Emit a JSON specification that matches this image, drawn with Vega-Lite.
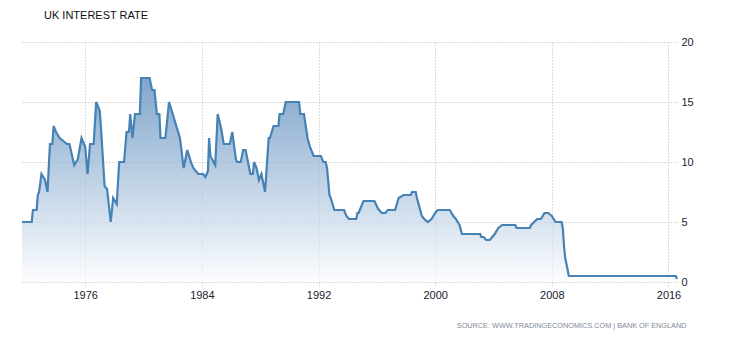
{
  "$schema": "https://vega.github.io/schema/vega-lite/v6.json",
  "autosize": {"type": "none"},
  "padding": {"left": 22, "top": 42, "right": 53, "bottom": 58},
  "width": 655,
  "height": 240,
  "background": "white",
  "title": {
    "text": "UK INTEREST RATE",
    "anchor": "start",
    "frame": "group",
    "dx": 22,
    "offset": 15,
    "font": "Liberation Sans",
    "fontSize": 11,
    "fontWeight": "normal",
    "color": "#111111"
  },
  "data": {
    "values": [
      {"date": "1971-09-01", "rate": 5},
      {"date": "1972-05-01", "rate": 5},
      {"date": "1972-06-01", "rate": 6},
      {"date": "1972-09-01", "rate": 6},
      {"date": "1972-10-01", "rate": 7.25},
      {"date": "1972-11-01", "rate": 7.5},
      {"date": "1973-01-01", "rate": 9},
      {"date": "1973-04-01", "rate": 8.5},
      {"date": "1973-06-01", "rate": 7.5},
      {"date": "1973-08-01", "rate": 11.5},
      {"date": "1973-10-01", "rate": 11.5},
      {"date": "1973-11-01", "rate": 13},
      {"date": "1974-01-01", "rate": 12.5},
      {"date": "1974-04-01", "rate": 12},
      {"date": "1974-07-01", "rate": 11.75},
      {"date": "1974-10-01", "rate": 11.5},
      {"date": "1974-12-01", "rate": 11.5},
      {"date": "1975-04-01", "rate": 9.75},
      {"date": "1975-07-01", "rate": 10.25},
      {"date": "1975-10-01", "rate": 12},
      {"date": "1976-01-01", "rate": 11.25},
      {"date": "1976-03-01", "rate": 9},
      {"date": "1976-05-01", "rate": 11.5},
      {"date": "1976-08-01", "rate": 11.5},
      {"date": "1976-10-01", "rate": 15},
      {"date": "1977-01-01", "rate": 14.25},
      {"date": "1977-02-01", "rate": 12.75},
      {"date": "1977-05-01", "rate": 8},
      {"date": "1977-07-01", "rate": 7.75},
      {"date": "1977-10-01", "rate": 5},
      {"date": "1977-12-01", "rate": 7},
      {"date": "1978-03-01", "rate": 6.5},
      {"date": "1978-05-01", "rate": 10},
      {"date": "1978-09-01", "rate": 10},
      {"date": "1978-11-01", "rate": 12.5},
      {"date": "1979-01-01", "rate": 12.5},
      {"date": "1979-02-01", "rate": 14},
      {"date": "1979-04-01", "rate": 12},
      {"date": "1979-06-01", "rate": 14},
      {"date": "1979-10-01", "rate": 14},
      {"date": "1979-11-01", "rate": 17},
      {"date": "1980-06-01", "rate": 17},
      {"date": "1980-08-01", "rate": 16},
      {"date": "1980-10-01", "rate": 16},
      {"date": "1980-12-01", "rate": 14},
      {"date": "1981-02-01", "rate": 14},
      {"date": "1981-03-01", "rate": 12},
      {"date": "1981-07-01", "rate": 12},
      {"date": "1981-10-01", "rate": 15},
      {"date": "1982-01-01", "rate": 14},
      {"date": "1982-04-01", "rate": 13},
      {"date": "1982-07-01", "rate": 12},
      {"date": "1982-10-01", "rate": 9.5},
      {"date": "1983-01-01", "rate": 11},
      {"date": "1983-04-01", "rate": 10},
      {"date": "1983-06-01", "rate": 9.5},
      {"date": "1983-10-01", "rate": 9},
      {"date": "1984-02-01", "rate": 9},
      {"date": "1984-04-01", "rate": 8.75},
      {"date": "1984-06-01", "rate": 9.25},
      {"date": "1984-07-01", "rate": 12},
      {"date": "1984-08-01", "rate": 10.5},
      {"date": "1984-12-01", "rate": 9.75},
      {"date": "1985-02-01", "rate": 14},
      {"date": "1985-05-01", "rate": 12.75},
      {"date": "1985-07-01", "rate": 11.5},
      {"date": "1985-12-01", "rate": 11.5},
      {"date": "1986-02-01", "rate": 12.5},
      {"date": "1986-05-01", "rate": 10.25},
      {"date": "1986-06-01", "rate": 10},
      {"date": "1986-09-01", "rate": 10},
      {"date": "1986-11-01", "rate": 11},
      {"date": "1987-01-01", "rate": 11},
      {"date": "1987-03-01", "rate": 10},
      {"date": "1987-05-01", "rate": 9},
      {"date": "1987-07-01", "rate": 9},
      {"date": "1987-08-01", "rate": 10},
      {"date": "1987-10-01", "rate": 9.5},
      {"date": "1987-12-01", "rate": 8.5},
      {"date": "1988-02-01", "rate": 9},
      {"date": "1988-04-01", "rate": 8},
      {"date": "1988-05-01", "rate": 7.5},
      {"date": "1988-08-01", "rate": 12},
      {"date": "1988-09-01", "rate": 12},
      {"date": "1988-12-01", "rate": 13},
      {"date": "1989-04-01", "rate": 13},
      {"date": "1989-05-01", "rate": 14},
      {"date": "1989-08-01", "rate": 14},
      {"date": "1989-10-01", "rate": 15},
      {"date": "1990-09-01", "rate": 15},
      {"date": "1990-10-01", "rate": 14},
      {"date": "1991-01-01", "rate": 14},
      {"date": "1991-04-01", "rate": 12},
      {"date": "1991-06-01", "rate": 11.25},
      {"date": "1991-09-01", "rate": 10.5},
      {"date": "1992-03-01", "rate": 10.5},
      {"date": "1992-05-01", "rate": 10},
      {"date": "1992-07-01", "rate": 10},
      {"date": "1992-08-01", "rate": 9.5},
      {"date": "1992-10-01", "rate": 7.25},
      {"date": "1992-11-01", "rate": 7},
      {"date": "1993-02-01", "rate": 6},
      {"date": "1993-10-01", "rate": 6},
      {"date": "1993-12-01", "rate": 5.5},
      {"date": "1994-02-01", "rate": 5.25},
      {"date": "1994-08-01", "rate": 5.25},
      {"date": "1994-09-01", "rate": 5.75},
      {"date": "1994-10-01", "rate": 5.75},
      {"date": "1995-02-01", "rate": 6.75},
      {"date": "1995-11-01", "rate": 6.75},
      {"date": "1996-02-01", "rate": 6.1},
      {"date": "1996-05-01", "rate": 5.75},
      {"date": "1996-08-01", "rate": 5.75},
      {"date": "1996-10-01", "rate": 6},
      {"date": "1997-04-01", "rate": 6},
      {"date": "1997-07-01", "rate": 7},
      {"date": "1997-11-01", "rate": 7.25},
      {"date": "1998-05-01", "rate": 7.25},
      {"date": "1998-06-01", "rate": 7.5},
      {"date": "1998-09-01", "rate": 7.5},
      {"date": "1998-10-01", "rate": 7},
      {"date": "1999-02-01", "rate": 5.5},
      {"date": "1999-04-01", "rate": 5.25},
      {"date": "1999-07-01", "rate": 5},
      {"date": "1999-10-01", "rate": 5.25},
      {"date": "2000-01-01", "rate": 5.75},
      {"date": "2000-03-01", "rate": 6},
      {"date": "2001-01-01", "rate": 6},
      {"date": "2001-04-01", "rate": 5.5},
      {"date": "2001-06-01", "rate": 5.25},
      {"date": "2001-09-01", "rate": 4.75},
      {"date": "2001-11-01", "rate": 4},
      {"date": "2003-02-01", "rate": 4},
      {"date": "2003-03-01", "rate": 3.75},
      {"date": "2003-05-01", "rate": 3.75},
      {"date": "2003-07-01", "rate": 3.5},
      {"date": "2003-10-01", "rate": 3.5},
      {"date": "2003-12-01", "rate": 3.75},
      {"date": "2004-02-01", "rate": 4},
      {"date": "2004-05-01", "rate": 4.5},
      {"date": "2004-08-01", "rate": 4.75},
      {"date": "2005-07-01", "rate": 4.75},
      {"date": "2005-08-01", "rate": 4.5},
      {"date": "2006-07-01", "rate": 4.5},
      {"date": "2006-08-01", "rate": 4.75},
      {"date": "2007-01-01", "rate": 5.25},
      {"date": "2007-04-01", "rate": 5.25},
      {"date": "2007-07-01", "rate": 5.75},
      {"date": "2007-10-01", "rate": 5.75},
      {"date": "2008-01-01", "rate": 5.5},
      {"date": "2008-04-01", "rate": 5},
      {"date": "2008-09-01", "rate": 5},
      {"date": "2008-10-01", "rate": 4.5},
      {"date": "2008-11-01", "rate": 3},
      {"date": "2008-12-01", "rate": 2},
      {"date": "2009-01-01", "rate": 1.5},
      {"date": "2009-02-01", "rate": 1},
      {"date": "2009-03-01", "rate": 0.5},
      {"date": "2016-07-01", "rate": 0.5},
      {"date": "2016-08-01", "rate": 0.25}
    ]
  },
  "mark": {
    "type": "area",
    "interpolate": "linear",
    "line": {"color": "#4682b4", "strokeWidth": 2.2},
    "color": {
      "gradient": "linear",
      "x1": 1, "y1": 0, "x2": 1, "y2": 1,
      "stops": [
        {"offset": 0, "color": "#4a80b6"},
        {"offset": 1, "color": "#fbfcfe"}
      ]
    }
  },
  "encoding": {
    "x": {
      "field": "date",
      "type": "temporal",
      "scale": {"type": "utc", "nice": false},
      "axis": {
        "title": "SOURCE: WWW.TRADINGECONOMICS.COM | BANK OF ENGLAND",
        "titleFont": "Liberation Sans",
        "titleFontSize": 7.3,
        "titleFontWeight": "normal",
        "titleColor": "#7f8a96",
        "titleAnchor": "end",
        "titleAlign": "right",
        "titleBaseline": "middle",
        "titleX": 664,
        "titleY": 43,
        "values": [
          {"year": 1976, "utc": true},
          {"year": 1984, "utc": true},
          {"year": 1992, "utc": true},
          {"year": 2000, "utc": true},
          {"year": 2008, "utc": true},
          {"year": 2016, "utc": true}
        ],
        "format": "%Y",
        "labelFont": "Liberation Sans",
        "labelFontSize": 11,
        "labelColor": "#1a1a2e",
        "labelPadding": 2,
        "labelFlush": false,
        "domain": false,
        "ticks": true,
        "tickSize": 5,
        "tickColor": "#bbbbbb",
        "tickDash": [1, 2],
        "grid": true,
        "gridColor": "#bbbbbb",
        "gridDash": [1, 2]
      }
    },
    "y": {
      "field": "rate",
      "type": "quantitative",
      "scale": {"domain": [0, 20], "nice": false},
      "axis": {
        "orient": "right",
        "title": null,
        "values": [0, 5, 10, 15, 20],
        "labelFont": "Liberation Sans",
        "labelFontSize": 11,
        "labelColor": "#1a1a2e",
        "labelPadding": 4,
        "domain": false,
        "ticks": false,
        "grid": true,
        "gridColor": "#bbbbbb",
        "gridDash": [1, 2]
      }
    }
  },
  "config": {"view": {"stroke": null}}
}
